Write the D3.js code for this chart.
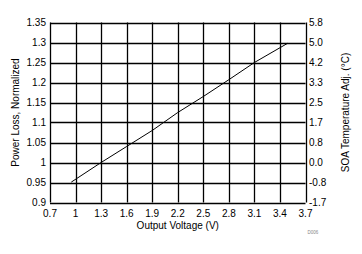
<!DOCTYPE html>
<html>
<head>
<meta charset="utf-8">
<script src="https://cdn.jsdelivr.net/npm/d3@7"></script>
<style>
  body { margin: 0; background: #fff; }
  text { font-family: "Liberation Sans", Arial, sans-serif; fill: #000; }
</style>
</head>
<body>
<div id="chart"></div>
<script>
/* data */
var voltage = [0.95, 1.3, 1.6, 1.9, 2.2, 2.5, 2.8, 3.1, 3.49];
var powerLoss = [0.951, 1.0, 1.04, 1.08, 1.125, 1.165, 1.207, 1.25, 1.298];
var xTicks = [0.7, 1, 1.3, 1.6, 1.9, 2.2, 2.5, 2.8, 3.1, 3.4, 3.7];
var yTicks = [0.9, 0.95, 1, 1.05, 1.1, 1.15, 1.2, 1.25, 1.3, 1.35];
var rightLabels = ["-1.7", "-0.8", "0.0", "0.8", "1.7", "2.5", "3.3", "4.2", "5.0", "5.8"];

function chart(selector)
{
    var width = 362, height = 254;
    var plotL = 50, plotR = 305.5, plotT = 22.5, plotB = 202.5;

    var svg = d3.select(selector).append("svg")
        .attr("width", width)
        .attr("height", height);

    var x = d3.scaleLinear().domain([0.7, 3.7]).range([plotL, plotR]);
    var y = d3.scaleLinear().domain([0.9, 1.35]).range([plotB, plotT]);

    /* grid */
    var grid = svg.append("g").attr("stroke", "#000").attr("stroke-width", 1.3);
    grid.selectAll("line.v").data(xTicks).enter().append("line")
        .attr("x1", function (d) { return Math.round(x(d)) + 0.5; })
        .attr("x2", function (d) { return Math.round(x(d)) + 0.5; })
        .attr("y1", plotT).attr("y2", plotB);
    grid.selectAll("line.h").data(yTicks).enter().append("line")
        .attr("y1", function (d) { return Math.round(y(d)) + 0.5; })
        .attr("y2", function (d) { return Math.round(y(d)) + 0.5; })
        .attr("x1", plotL).attr("x2", plotR);

    /* tick labels */
    svg.append("g").selectAll("text").data(xTicks).enter().append("text")
        .attr("x", function (d) { return x(d); })
        .attr("y", 217)
        .attr("text-anchor", "middle")
        .attr("font-size", 10)
        .text(function (d) { return d3.format("")(d); });

    svg.append("g").selectAll("text").data(yTicks).enter().append("text")
        .attr("x", 46)
        .attr("y", function (d) { return y(d) + 3.5; })
        .attr("text-anchor", "end")
        .attr("font-size", 10)
        .text(function (d) { return d3.format("")(d); });

    svg.append("g").selectAll("text").data(yTicks).enter().append("text")
        .attr("x", 309)
        .attr("y", function (d) { return y(d) + 3.5; })
        .attr("font-size", 10)
        .text(function (d, i) { return rightLabels[i]; });

    /* titles */
    svg.append("text")
        .attr("x", (plotL + plotR) / 2)
        .attr("y", 229)
        .attr("text-anchor", "middle")
        .attr("font-size", 10)
        .text("Output Voltage (V)");

    svg.append("text")
        .attr("transform", "translate(19," + ((plotT + plotB) / 2) + ") rotate(-90)")
        .attr("text-anchor", "middle")
        .attr("font-size", 10)
        .text("Power Loss, Normalized");

    svg.append("text")
        .attr("transform", "translate(349," + ((plotT + plotB) / 2) + ") rotate(-90)")
        .attr("text-anchor", "middle")
        .attr("font-size", 10)
        .text("SOA Temperature Adj. (°C)");

    svg.append("text")
        .attr("x", 313)
        .attr("y", 234)
        .attr("text-anchor", "middle")
        .attr("font-size", 4.5)
        .style("fill", "#888")
        .text("D006");

    /* curve */
    var line = d3.line()
        .x(function (d, i) { return x(voltage[i]); })
        .y(function (d) { return y(d); });

    svg.append("path")
        .datum(powerLoss)
        .attr("d", line)
        .attr("fill", "none")
        .attr("stroke", "#000")
        .attr("stroke-width", 1);
}

chart("#chart");
</script>
</body>
</html>
